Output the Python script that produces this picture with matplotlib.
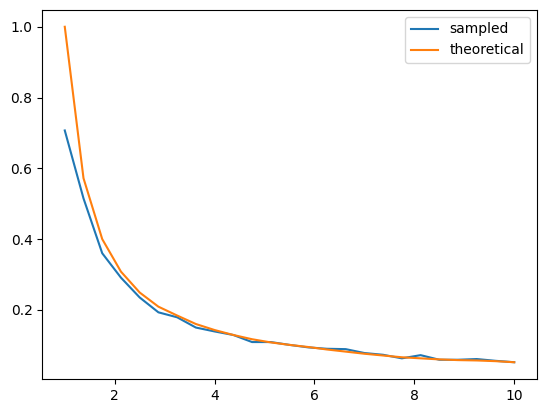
import matplotlib
matplotlib.use("Agg")
import matplotlib.pyplot as plt

x = [1.0, 1.375, 1.75, 2.125, 2.5, 2.875, 3.25, 3.625, 4.0, 4.375, 4.75, 5.125,
     5.5, 5.875, 6.25, 6.625, 7.0, 7.375, 7.75, 8.125, 8.5, 8.875, 9.25, 9.625, 10.0]
sampled = [0.707, 0.515, 0.360, 0.291, 0.235, 0.193, 0.179, 0.150, 0.139, 0.129,
           0.109, 0.109, 0.101, 0.094, 0.090, 0.089, 0.078, 0.073, 0.063, 0.072,
           0.059, 0.059, 0.061, 0.056, 0.052]
theoretical = [1.000, 0.572, 0.400, 0.308, 0.249, 0.209, 0.184, 0.160, 0.143, 0.129,
               0.117, 0.108, 0.101, 0.095, 0.088, 0.082, 0.076, 0.071, 0.066, 0.063,
               0.060, 0.058, 0.057, 0.055, 0.052]

fig = plt.figure(figsize=(5.47, 4.13), dpi=100)
W, H = 547, 413
ax = fig.add_axes([42.3 / W, 1 - 379 / H, (536.7 - 42.3) / W, (379 - 10) / H])
ax.plot(x, sampled, label="sampled")
ax.plot(x, theoretical, label="theoretical")
ax.legend()
fig.savefig("out.png", dpi=100)
